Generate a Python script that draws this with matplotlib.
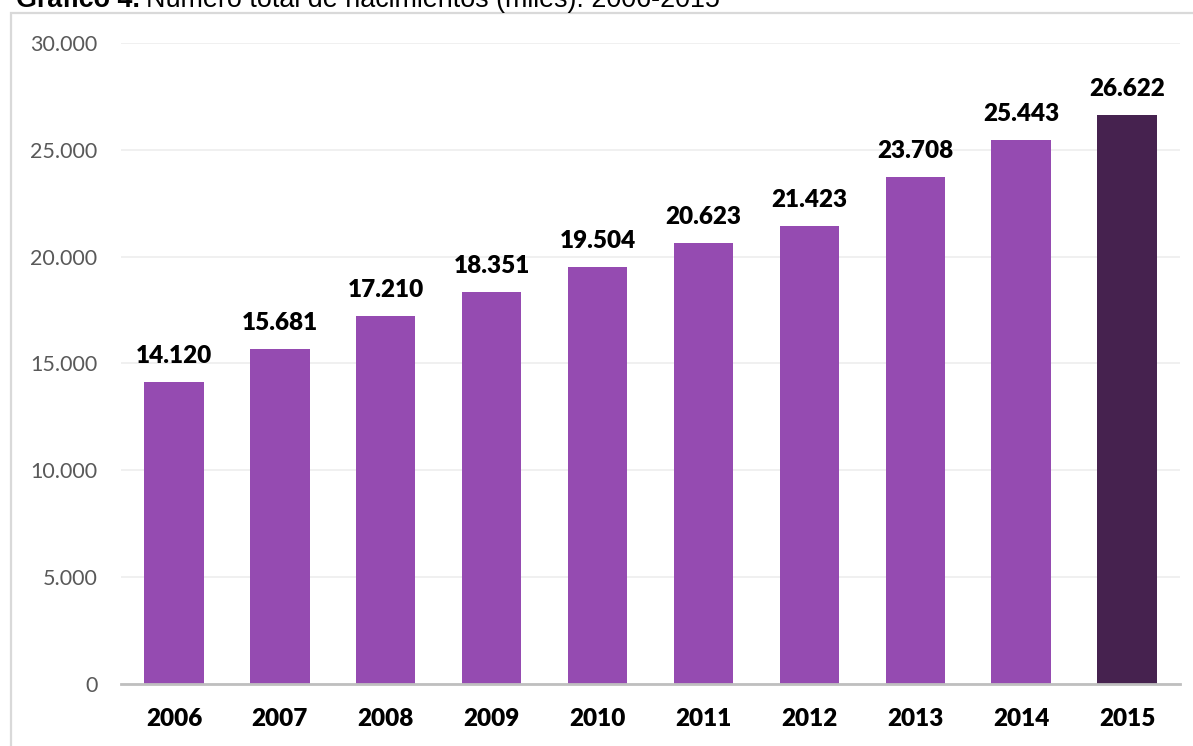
import numpy as np
import matplotlib
matplotlib.use("Agg")
from matplotlib import pyplot as plt
from matplotlib.patches import Rectangle

years = ["2006", "2007", "2008", "2009", "2010", "2011", "2012", "2013", "2014", "2015"]
births = [14120, 15681, 17210, 18351, 19504, 20623, 21423, 23708, 25443, 26622]
yticks = [0, 5000, 10000, 15000, 20000, 25000, 30000]

bar_color = "#954BB1"
last_color = "#46224F"

W, H = 1193, 746
fig = plt.figure(figsize=(W / 100, H / 100), dpi=100)
ax = fig.add_axes([121 / W, 62 / H, (1180 - 121) / W, (684 - 43) / H])

x = np.arange(len(years))
colors = [bar_color] * (len(years) - 1) + [last_color]
ax.bar(x, births, width=0.56, color=colors, zorder=2)

for xi, v in zip(x, births):
    label = f"{v:,}".replace(",", ".")
    ax.annotate(label, (xi, v), xytext=(0, 11), textcoords="offset points",
                ha="center", va="bottom", fontsize=17.5, fontweight="heavy",
                family="Lato", color="black")

ax.set_xlim(-0.5, len(years) - 0.5)
ax.set_ylim(0, 30000)
ax.set_yticks(yticks)
ax.set_yticklabels([f"{t:,}".replace(",", ".") for t in yticks],
                   fontsize=15.5, family="Lato", color="#595959")
ax.set_xticks(x)
ax.set_xticklabels(years, fontsize=17.5, fontweight="heavy", family="Lato", color="black")
ax.tick_params(axis="y", length=0, pad=17)
ax.tick_params(axis="x", length=0, pad=17)
ax.grid(axis="y", color="#EFEFEF", linewidth=1.3, zorder=0)
for s in ["top", "right", "left"]:
    ax.spines[s].set_visible(False)
ax.spines["bottom"].set_color("#BFBFBF")
ax.spines["bottom"].set_linewidth(2)
ax.spines["bottom"].set_zorder(3)

# frame around chart area
fig.patches.append(Rectangle((11 / W, -0.1), 1.2, (H - 13) / H + 0.1,
                             transform=fig.transFigure, fill=False,
                             edgecolor="#D9D9D9", linewidth=1.6))

# title, partly cut at the top edge as in the source
t1 = fig.text(16 / W, (H - 7) / H, "Gráfico 4.", fontsize=19.4, fontweight="bold",
              family="Liberation Sans", va="baseline", ha="left")
fig.canvas.draw()
bb = t1.get_window_extent(fig.canvas.get_renderer())
fig.text(bb.x1 / W + 6 / W, (H - 7) / H, "Número total de nacimientos (miles). 2006-2015",
         fontsize=19.4, family="Liberation Sans", va="baseline", ha="left")

fig.savefig("out.png", dpi=100)
